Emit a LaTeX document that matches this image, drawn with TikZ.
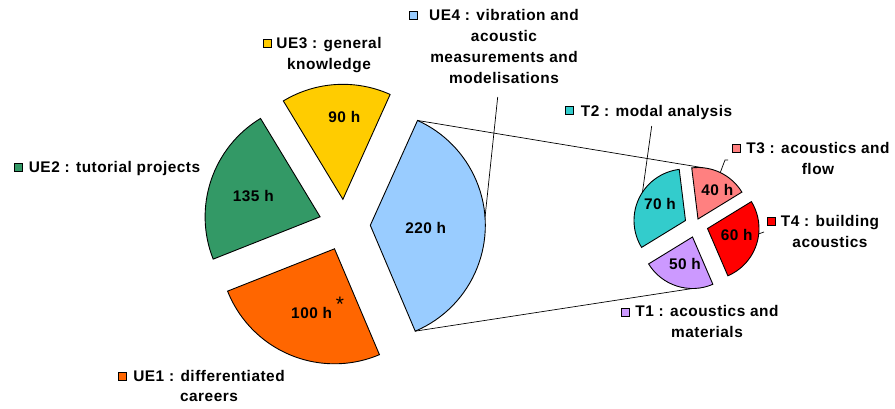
\documentclass[tikz,border=0pt]{standalone}
\usepackage{fontspec}
\setmainfont{Liberation Sans}[LetterSpace=3.3]
\definecolor{ueone}{HTML}{FF6600}
\definecolor{uetwo}{HTML}{339966}
\definecolor{uethree}{HTML}{FFCC00}
\definecolor{uefour}{HTML}{99CCFF}
\definecolor{tone}{HTML}{CC99FF}
\definecolor{ttwo}{HTML}{33CCCC}
\definecolor{tthree}{HTML}{FF8080}
\definecolor{tfour}{HTML}{FF0000}
\newcommand\lblfont{\fontsize{15.4}{20.8}\selectfont\bfseries}
\newcommand\labrows[1]{\begin{tabular}[t]{@{}c@{}}#1\end{tabular}}
\begin{document}
\begin{tikzpicture}[x=1pt,y=-1pt,
  slice/.style={draw=black,line width=0.9pt,line join=miter},
  lead/.style={draw=black,line width=0.7pt},
  key/.style={draw=black,line width=0.8pt,minimum size=8pt,inner sep=0pt},
  lab/.style={font=\lblfont,inner sep=0pt,anchor=base},
  val/.style={font=\lblfont,inner sep=0pt}]
\useasboundingbox (0,0) rectangle (895,408);

% main pie: exploded sectors, radius 115
\coordinate (a4) at (370.3,225.3);
\coordinate (a3) at (342.9,199.3);
\coordinate (a2) at (320.1,216.8);
\coordinate (a1) at (334.5,248.8);
\draw[slice,fill=uefour] (a4) -- ++(67:115) arc[start angle=67,end angle=-65.75,radius=115] -- cycle;
\draw[slice,fill=uethree] (a3) -- ++(-65.75:115) arc[start angle=-65.75,end angle=-121.2,radius=115] -- cycle;
\draw[slice,fill=uetwo] (a2) -- ++(-121.2:115) arc[start angle=-121.2,end angle=-201.6,radius=115] -- cycle;
\draw[slice,fill=ueone] (a1) -- ++(-201.6:115) arc[start angle=-201.6,end angle=-293,radius=115] -- cycle;

% secondary pie detailing UE4, radius 51.5
\coordinate (b3) at (698,219);
\coordinate (b2) at (685.5,220.5);
\coordinate (b1) at (692.5,237);
\coordinate (b4) at (707.5,228.5);
\draw[slice,fill=tthree] (b3) -- ++(-31.5:51.5) arc[start angle=-31.5,end angle=-97,radius=51.5] -- cycle;
\draw[slice,fill=ttwo] (b2) -- ++(-97:51.5) arc[start angle=-97,end angle=-211.5,radius=51.5] -- cycle;
\draw[slice,fill=tone] (b1) -- ++(-211.5:51.5) arc[start angle=-211.5,end angle=-293.3,radius=51.5] -- cycle;
\draw[slice,fill=tfour] (b4) -- ++(-293.3:51.5) arc[start angle=-293.3,end angle=-391.5,radius=51.5] -- cycle;

% lines joining UE4 to the secondary pie
\path (a4) ++(-65.75:115) coordinate (u4top);
\path (a4) ++(67:115) coordinate (u4bot);
\path (b3) ++(-84.4:51.5) coordinate (t3top);
\path (b1) ++(90:51.5) coordinate (t1bot);
\draw[lead] (u4top) -- (t3top);
\draw[lead] (u4bot) -- (t1bot);

% leader lines
\coordinate (l4) at (497.7,97);
\path (a4) ++(-4:115) coordinate (p4);
\draw[lead] (l4) -- (p4);
\coordinate (l2) at (651.7,126);
\path (b2) ++(-146.7:51.5) coordinate (p2);
\draw[lead] (l2) -- (p2);
\coordinate (l3) at (728,160);
\path (b3) ++(-64.4:51.5) coordinate (p3);
\draw[lead] (l3) -- ++(-3,0) -- (p3);
\coordinate (l4b) at (764,232);
\path (b4) ++(6:51.5) coordinate (p4b);
\draw[lead] (p4b) -- (l4b);

% values
\node[val] (v4) at (425.7,228.3) {220 h};
\node[val] (v3) at (344.3,116.7) {90 h};
\node[val] (v2) at (253.3,196) {135 h};
\node[val] (v1) at (311.7,313.3) {100 h};
\node[font=\fontsize{21}{21}\selectfont,inner sep=0pt,anchor=base] (star) at (340,311) {*};
\node[val] (w2) at (660,204.3) {70 h};
\node[val] (w3) at (717.3,190) {40 h};
\node[val] (w4) at (736.7,235) {60 h};
\node[val] (w1) at (685,264) {50 h};

% legend keys
\node[key,fill=uethree] (k3) at (267,43) {};
\node[key,fill=uetwo] (k2) at (18.3,167) {};
\node[key,fill=uefour] (k4) at (413.8,15) {};
\node[key,fill=ttwo] (q2) at (569.5,110) {};
\node[key,fill=tthree] (q3) at (736,148) {};
\node[key,fill=tfour] (q4) at (771,221) {};
\node[key,fill=tone] (q1) at (625.5,312.5) {};
\node[key,fill=ueone] (k1) at (122.5,376) {};

% labels
\node[lab] (n3) at (329,48.3) {\labrows{UE3 : general\\knowledge}};
\node[lab] (n2) at (114.5,172.7) {UE2 : tutorial projects};
\node[lab] (n4) at (504,20.7) {\labrows{UE4 : vibration and\\acoustic\\measurements and\\modelisations}};
\node[lab] (m2) at (656.5,116) {T2 : modal analysis};
\node[lab] (m3) at (818,153.3) {\labrows{T3 : acoustics and\\flow}};
\node[lab] (m4) at (830,226.7) {\labrows{T4 : building\\acoustics}};
\node[lab] (m1) at (707,316.7) {\labrows{T1 : acoustics and\\materials}};
\node[lab] (n1) at (209,381) {\labrows{UE1 : differentiated\\careers}};
\end{tikzpicture}
\end{document}
